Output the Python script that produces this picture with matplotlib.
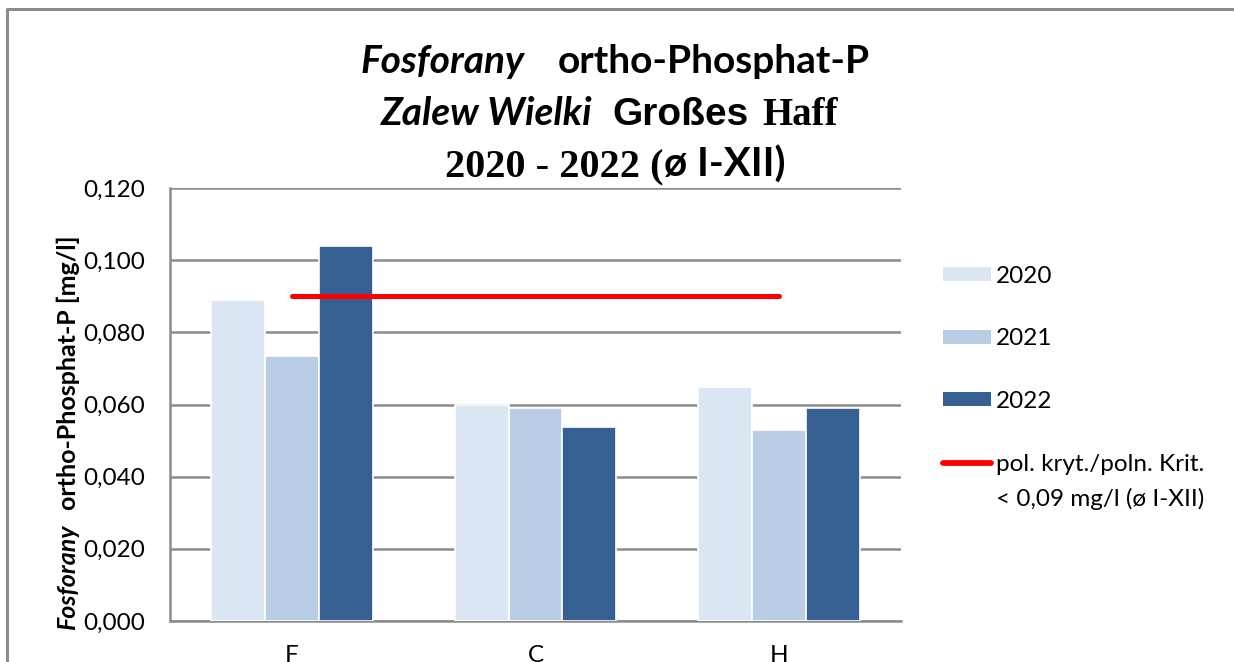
import numpy as np
import matplotlib
matplotlib.use('Agg')
import matplotlib.pyplot as plt
from matplotlib.patches import Patch
from matplotlib.lines import Line2D

# data
stations = ['F', 'C', 'H']
years = ['2020', '2021', '2022']
vals_2020 = [0.0890, 0.0599, 0.0649]
vals_2021 = [0.0734, 0.0590, 0.0529]
vals_2022 = [0.1039, 0.0538, 0.0590]
limit = 0.09
yticks = [0.0, 0.02, 0.04, 0.06, 0.08, 0.10, 0.12]

colors = ['#DCE6F2', '#B9CDE5', '#376092']
grey = '#8C8C8C'
SANS = 'Lato'
SERIF = 'Liberation Serif'
FS = 17.5

W, H = 1234, 662
fig = plt.figure(figsize=(W / 100, H / 100), dpi=100)
ax = fig.add_axes([170 / W, 1 - 621 / H, (901 - 170) / W, (621 - 188) / H])

x = np.arange(len(stations))
bw = 0.221
for i, (vals, c) in enumerate(zip([vals_2020, vals_2021, vals_2022], colors)):
    ax.bar(x + (i - 1) * bw, vals, width=bw, color=c, edgecolor='white',
           linewidth=1.2, zorder=3)

ax.plot(x, [limit] * len(x), color='#FF0000', lw=3.6, solid_capstyle='round', zorder=4)

ax.set_xlim(-0.5, 2.5)
ax.set_ylim(0, 0.12)
ax.set_yticks(yticks)
ax.set_yticklabels([('%.3f' % v).replace('.', ',') for v in yticks],
                   fontsize=FS, family=SANS)
ax.set_xticks(x)
ax.set_xticklabels(stations, fontsize=FS, family=SANS)
ax.tick_params(axis='y', length=0, pad=18)
ax.tick_params(axis='x', length=0, pad=17)
ax.grid(axis='y', color=grey, lw=1.8, zorder=0)
for s in ['top', 'right']:
    ax.spines[s].set_visible(False)
for s in ['left', 'bottom']:
    ax.spines[s].set_color(grey)
    ax.spines[s].set_linewidth(1.8)

# legend
handles = [Patch(facecolor=c, edgecolor='none') for c in colors]
handles.append(Line2D([], [], color='#FF0000', lw=4.2, solid_capstyle='round'))
labels = years + ['pol. kryt./poln. Krit.']
leg = fig.legend(handles, labels, loc='upper left', bbox_to_anchor=(921 / W, 1 - 244 / H),
                 frameon=False, prop={'family': SANS, 'size': FS},
                 handlelength=2.0, handleheight=0.5, handletextpad=0.2,
                 labelspacing=1.71)

# figure border (left and top)
fig.add_artist(Line2D([7 / W, 7 / W, 1.0], [0, 1 - 9 / H, 1 - 9 / H],
                      transform=fig.transFigure, color=grey, lw=2.2))

fig.canvas.draw()
renderer = fig.canvas.get_renderer()

# second line of the limit label
bb = leg.get_texts()[3].get_window_extent(renderer)
fig.text(bb.x0 / W, (bb.y0 + bb.y1) / 2 / H - 35 / H, '< 0,09 mg/l (ø I-XII)',
         family=SANS, size=FS, ha='left', va='center')


def rich_line(pieces, xc, y, size):
    # pieces: (text, family, style, gap_px_before)
    texts = []
    total = 0
    for s, fam, sty, gap in pieces:
        t = fig.text(0, y, s, family=fam, style=sty, weight='bold', size=size,
                     va='baseline', ha='left')
        w = t.get_window_extent(renderer).width
        texts.append((t, w, gap))
        total += w + gap
    pos = xc - total / 2
    for t, w, gap in texts:
        pos += gap
        t.set_x(pos / W)
        pos += w


rich_line([('Fosforany', SANS, 'italic', 0), ('ortho-Phosphat-P', SANS, 'normal', 33)],
          615, 1 - 73 / H, 28)
rich_line([('Zalew Wielki', SANS, 'italic', 0), ('Großes', 'Liberation Sans', 'normal', 21),
           ('Haff', SERIF, 'normal', 13)], 609, 1 - 125 / H, 28)
rich_line([('2020 - 2022 (', SERIF, 'normal', 0), ('ø I-XII)', SANS, 'normal', 0)],
          615, 1 - 177 / H, 29)

# rotated y label with mixed styles
t1 = fig.text(68 / W, 1 - 630 / H, 'Fosforany', family=SANS, style='italic', weight='bold',
              size=18, rotation=90, ha='center', va='bottom')
h1 = t1.get_window_extent(renderer).height
fig.text(68 / W, 1 - (630 - h1 - 15) / H, 'ortho-Phosphat-P [mg/l]', family=SANS,
         weight='bold', size=18, rotation=90, ha='center', va='bottom')

fig.savefig('out.png', dpi=100)
